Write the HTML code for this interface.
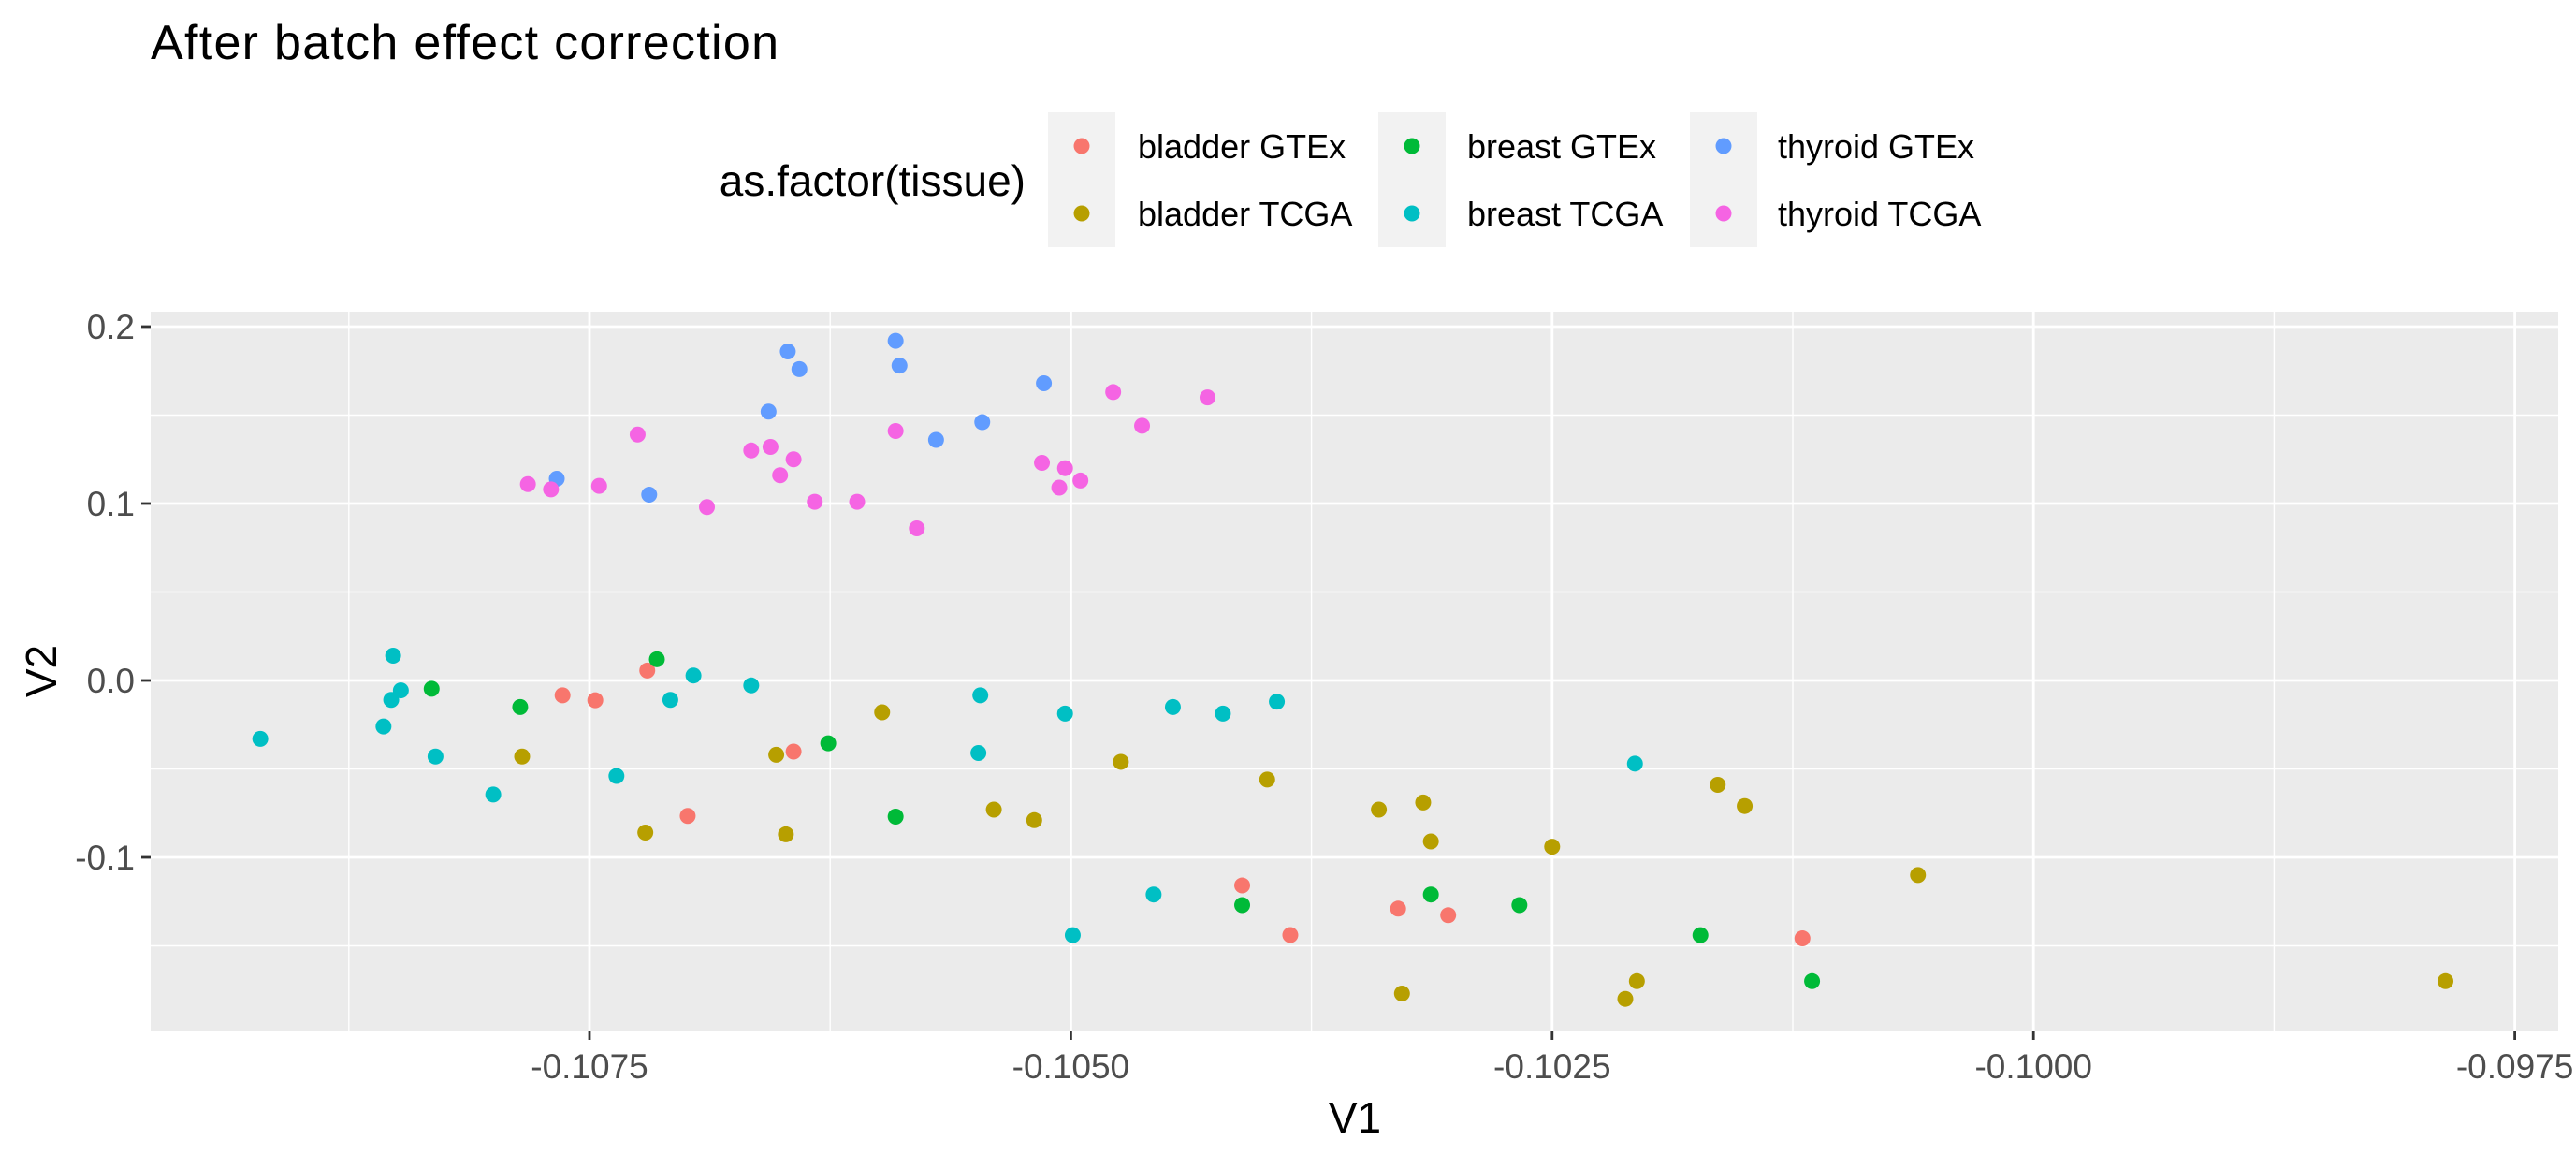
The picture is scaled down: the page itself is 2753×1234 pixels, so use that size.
<!DOCTYPE html>
<html><head><meta charset="utf-8"><style>
html,body{margin:0;padding:0;background:#fff}
svg{display:block;font-family:"Liberation Sans",Arial,sans-serif}
</style></head><body>
<svg id="chart" width="2753" height="1234" viewBox="0 0 2753 1234">
<text x="161" y="63" font-size="52" fill="#000" textLength="671">After batch effect correction</text>
<g id="legend"></g>
<rect x="161" y="333" width="2573" height="768" fill="#EBEBEB"/>
<g id="grid"></g>
<g id="points"></g>
<g id="axes"></g>
<text x="1448" y="1210" font-size="46" text-anchor="middle" fill="#000">V1</text>
<text transform="translate(60,717) rotate(-90)" font-size="46" text-anchor="middle" fill="#000">V2</text>
</svg>
<script>
const groups = ["bladder GTEx","bladder TCGA","breast GTEx","breast TCGA","thyroid GTEx","thyroid TCGA"];
const colors = ["#F8766D","#B79F00","#00BA38","#00BFC4","#619CFF","#F564E3"];
const xBladderGTEx = [-0.10764,-0.10747,-0.10720,-0.10699,-0.10644,-0.10411,-0.10386,-0.10330,-0.10304,-0.10120];
const yBladderGTEx = [-0.0084,-0.0112,0.0056,-0.0766,-0.0402,-0.1159,-0.1439,-0.129,-0.1327,-0.1458];
const xBladderTCGA = [-0.10785,-0.10721,-0.10653,-0.10648,-0.10598,-0.10540,-0.10519,-0.10474,-0.10398,-0.10340,-0.10317,-0.10313,-0.10328,-0.10250,-0.10212,-0.10206,-0.10164,-0.10150,-0.10060,-0.09786];
const yBladderTCGA = [-0.043,-0.086,-0.042,-0.087,-0.018,-0.073,-0.079,-0.046,-0.056,-0.073,-0.069,-0.091,-0.177,-0.094,-0.180,-0.170,-0.059,-0.071,-0.110,-0.170];
const xBreastGTEx = [-0.10832,-0.10786,-0.10715,-0.10626,-0.10591,-0.10411,-0.10313,-0.10267,-0.10173,-0.10115];
const yBreastGTEx = [-0.0047,-0.015,0.012,-0.0355,-0.077,-0.127,-0.121,-0.127,-0.144,-0.170];
const xBreastTCGA = [-0.10921,-0.10857,-0.10853,-0.10852,-0.10848,-0.10830,-0.10800,-0.10736,-0.10708,-0.10696,-0.10666,-0.10547,-0.10548,-0.10503,-0.10457,-0.10447,-0.10421,-0.10393,-0.10499,-0.10207];
const yBreastTCGA = [-0.033,-0.026,-0.011,0.014,-0.0056,-0.043,-0.0645,-0.054,-0.011,0.0028,-0.0028,-0.0084,-0.041,-0.0187,-0.121,-0.015,-0.0187,-0.012,-0.144,-0.047];
const xThyroidGTEx = [-0.10767,-0.10719,-0.10647,-0.10641,-0.10657,-0.10591,-0.10589,-0.10570,-0.10546,-0.10514];
const yThyroidGTEx = [0.114,0.105,0.186,0.176,0.152,0.192,0.178,0.136,0.146,0.168];
const xThyroidTCGA = [-0.10782,-0.10770,-0.10745,-0.10725,-0.10689,-0.10666,-0.10656,-0.10651,-0.10644,-0.10633,-0.10611,-0.10591,-0.10580,-0.10515,-0.10506,-0.10503,-0.10495,-0.10478,-0.10463,-0.10429];
const yThyroidTCGA = [0.111,0.108,0.110,0.139,0.098,0.130,0.132,0.116,0.125,0.101,0.101,0.141,0.086,0.123,0.109,0.120,0.113,0.163,0.144,0.160];
const xMajorTicks = [-0.1075,-0.105,-0.1025,-0.1,-0.0975];
const xTickLabels = ["-0.1075","-0.1050","-0.1025","-0.1000","-0.0975"];
const xMinorTicks = [-0.10875,-0.10625,-0.10375,-0.10125,-0.09875];
const yMajorTicks = [-0.1,0,0.1,0.2];
const yTickLabels = ["-0.1","0.0","0.1","0.2"];
const yMinorTicks = [-0.15,-0.05,0.05,0.15];

const PL=161, PR=2734, PT=333, PB=1101;
function xs(v){return 630+(v+0.1075)/0.0025*514.4;}
function ys(v){return 727-v*1890;}
const NS="http://www.w3.org/2000/svg";
function mk(tag,attrs,parent){const e=document.createElementNS(NS,tag);for(const k in attrs)e.setAttribute(k,attrs[k]);parent.appendChild(e);return e;}

const grid=document.getElementById('grid');
xMinorTicks.forEach(v=>{const l=mk('line',{x1:xs(v),x2:xs(v),y1:PT,y2:PB,stroke:'#fff','stroke-width':1.4},grid);

});
yMinorTicks.forEach(v=>{const l=mk('line',{x1:PL,x2:PR,y1:ys(v),y2:ys(v),stroke:'#fff','stroke-width':1.4},grid);

});
xMajorTicks.forEach(v=>{const l=mk('line',{x1:xs(v),x2:xs(v),y1:PT,y2:PB,stroke:'#fff','stroke-width':2.8},grid);

});
yMajorTicks.forEach(v=>{const l=mk('line',{x1:PL,x2:PR,y1:ys(v),y2:ys(v),stroke:'#fff','stroke-width':2.8},grid);

});

const axes=document.getElementById('axes');
xMajorTicks.forEach((v,i)=>{
 const t=mk('line',{x1:xs(v),x2:xs(v),y1:PB,y2:PB+10,stroke:'#333','stroke-width':2.8},axes);
 
 
 const tx=mk('text',{x:xs(v),y:PB+51,'font-size':37,'text-anchor':'middle',fill:'#4D4D4D'},axes);
 tx.textContent=xTickLabels[i];
 
 
});
yMajorTicks.forEach((v,i)=>{
 const t=mk('line',{x1:PL-10,x2:PL,y1:ys(v),y2:ys(v),stroke:'#333','stroke-width':2.8},axes);
 
 
 const tx=mk('text',{x:PL-17,y:ys(v)+13,'font-size':37,'text-anchor':'end',fill:'#4D4D4D'},axes);
 tx.textContent=yTickLabels[i];
 
 
});

const series=[[xBladderGTEx,yBladderGTEx],[xBladderTCGA,yBladderTCGA],[xBreastGTEx,yBreastGTEx],[xBreastTCGA,yBreastTCGA],[xThyroidGTEx,yThyroidGTEx],[xThyroidTCGA,yThyroidTCGA]];
const pts=document.getElementById('points');
series.forEach((s,gi)=>{
 s[0].forEach((xv,i)=>{
  const c=mk('circle',{cx:xs(xv),cy:ys(s[1][i]),r:8.5,fill:colors[gi]},pts);
  
  
 });
});

const lg=document.getElementById('legend');
const lt=mk('text',{x:1096,y:209,'font-size':46,'text-anchor':'end',fill:'#000'},lg);
lt.textContent='as.factor(tissue)';


const colKeyX=[1120,1473,1806], colTextX=[1216,1568,1900], rowY=[156,228];
for(let c=0;c<3;c++){
 const bg=mk('rect',{x:colKeyX[c],y:120,width:72,height:144,fill:'#F2F2F2'},lg);
 
 
 for(let r=0;r<2;r++){
  const gi=c*2+r;
  const d=mk('circle',{cx:colKeyX[c]+36,cy:rowY[r],r:8.5,fill:colors[gi]},lg);
  
  
  const t=mk('text',{x:colTextX[c],y:rowY[r]+13,'font-size':36,fill:'#000'},lg);
  t.textContent=groups[gi];
  
  
 }
}
</script>
</body></html>
